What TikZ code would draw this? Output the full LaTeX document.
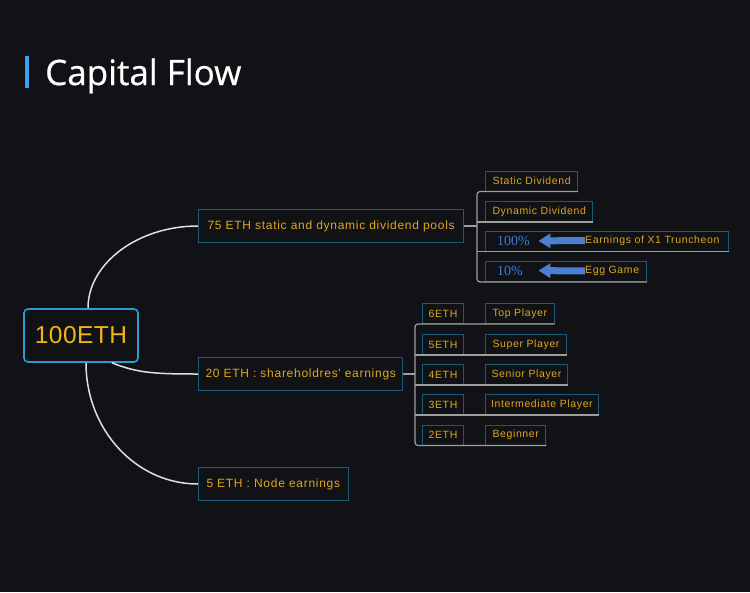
\documentclass[tikz,border=0pt]{standalone}
\usepackage{fontspec}
\usepackage{tikz}
\usetikzlibrary{positioning}
\usetikzlibrary{arrows.meta}

\newfontfamily\boxfont[LetterSpace=6]{Liberation Sans}
\newfontfamily\hubfont[LetterSpace=2]{Liberation Sans}
\newfontfamily\titlefont[FakeBold=0.6]{Open Sans}
\newfontfamily\pctfont{Liberation Serif}

\definecolor{bgdark}{HTML}{111215}
\definecolor{gold}{HTML}{E0A61E}
\definecolor{hubgold}{HTML}{F2B416}
\definecolor{boxblue}{HTML}{1C5878}
\definecolor{hubblue}{HTML}{2C9AD6}
\definecolor{pctblue}{HTML}{3D7CDA}
\definecolor{arrowblue}{HTML}{4C7ED2}
\definecolor{barblue}{HTML}{3AA2F0}

\begin{document}
\begin{tikzpicture}[x=1pt, y=-1pt,
    hub/.style={draw=hubblue, line width=1.6, rounded corners=4, fill=bgdark, text=hubgold,
      font=\hubfont\fontsize{24.5}{28}\selectfont, minimum width=114, minimum height=53},
    pool/.style={draw=boxblue, line width=1, fill=bgdark, text=gold, anchor=west,
      font=\boxfont\fontsize{12}{14}\selectfont, minimum height=33, inner xsep=9, inner ysep=0},
    leaf/.style={draw=boxblue, line width=1, fill=bgdark, text=gold, anchor=west,
      font=\boxfont\fontsize{10.5}{12}\selectfont, minimum height=20, inner xsep=7, inner ysep=0},
    tag/.style={leaf, minimum width=41, inner xsep=0},
    pct/.style={text=pctblue, font=\pctfont\fontsize{14}{16}\selectfont, anchor=west,
      inner sep=0, text width=33},
    note/.style={text=gold, font=\boxfont\fontsize{10.5}{12}\selectfont, anchor=west, inner sep=0},
    trunk/.style={draw=white!88!black, line width=1.5},
    branch/.style={draw=white!62!black, line width=1.2},
    blockarrow/.style={draw=arrowblue, line width=7, -{Triangle[width=14, length=12]}, shorten >=8}]

  % Fondo
  \fill[bgdark] (0,0) rectangle (750,592);
  \useasboundingbox (0,0) rectangle (750,592);

  % Titulo
  \fill[barblue] (25,56) rectangle (29,88);
  \node[anchor=base west, inner sep=0, text=white, font=\titlefont\fontsize{35}{38}\selectfont] (title) at (45,85) {Capital Flow};

  % Nodos
  \node[hub] (eth) at (81,335.5) {100ETH};

  \node[pool] (pools) at (198,226) {75 ETH static and dynamic dividend pools};
  \node[pool, inner xsep=7] (holders) at (198,374) {20 ETH : shareholdres' earnings};
  \node[pool, inner xsep=8] (nodes) at (198,484) {5 ETH : Node earnings};

  \node[leaf] (static) at (485,181) {Static Dividend};
  \node[leaf] (dynamic) at (485,211.5) {Dynamic Dividend};
  \node[leaf, minimum width=243] (row100) at (485,241) {};
  \node[leaf, minimum width=161] (row10) at (485,271.5) {};
  \node[pct] (pct100) at (497,241) {100\%};
  \node[note] (truncheon) at (585,240.5) {Earnings of X1 Truncheon};
  \node[pct] (pct10) at (497,270.5) {10\%};
  \node[note] (egg) at (585,271) {Egg Game};

  \node[tag] (eth6) at (422,313.5) {6ETH};
  \node[tag] (eth5) at (422,344.5) {5ETH};
  \node[tag] (eth4) at (422,374.5) {4ETH};
  \node[tag] (eth3) at (422,404.5) {3ETH};
  \node[tag] (eth2) at (422,435) {2ETH};
  \node[leaf] (top) at (485,313.5) {Top Player};
  \node[leaf] (super) at (485,344.5) {Super Player};
  \node[leaf, inner xsep=6] (senior) at (485,374.5) {Senior Player};
  \node[leaf, inner xsep=5.5] (middle) at (485,404.5) {Intermediate Player};
  \node[leaf] (beginner) at (485,435) {Beginner};

  \coordinate (fork1) at (477,226);
  \coordinate (fork2) at (415,374);

  % Aristas
  \draw[trunk] ([xshift=7]eth.north) .. controls +(0,-45) and +(-60,0) .. (pools.west);
  \draw[trunk] ([xshift=31]eth.south) .. controls +(25,10) and +(-45,0) .. (holders.west);
  \draw[trunk] ([xshift=5]eth.south) .. controls +(0,67) and +(-62,0) .. (nodes.west);

  \draw[branch] (pools.east) -- (fork1);
  \draw[branch, rounded corners=3] (static.south east) -| (fork1) |- (row10.south east);
  \draw[branch] (fork1 |- dynamic.south east) -- (dynamic.south east);
  \draw[branch] (fork1 |- row100.south east) -- (row100.south east);

  \draw[branch] (holders.east) -- (fork2);
  \draw[branch, rounded corners=3] (top.south east) -| (fork2) |- (beginner.south east);
  \draw[branch] (fork2 |- super.south east) -- (super.south east);
  \draw[branch] (fork2 |- senior.south east) -- (senior.south east);
  \draw[branch] (fork2 |- middle.south east) -- (middle.south east);

  \draw[blockarrow] (truncheon.west) -- (pct100.east);
  \draw[blockarrow] (egg.west) -- (pct10.east);
\end{tikzpicture}
\end{document}
